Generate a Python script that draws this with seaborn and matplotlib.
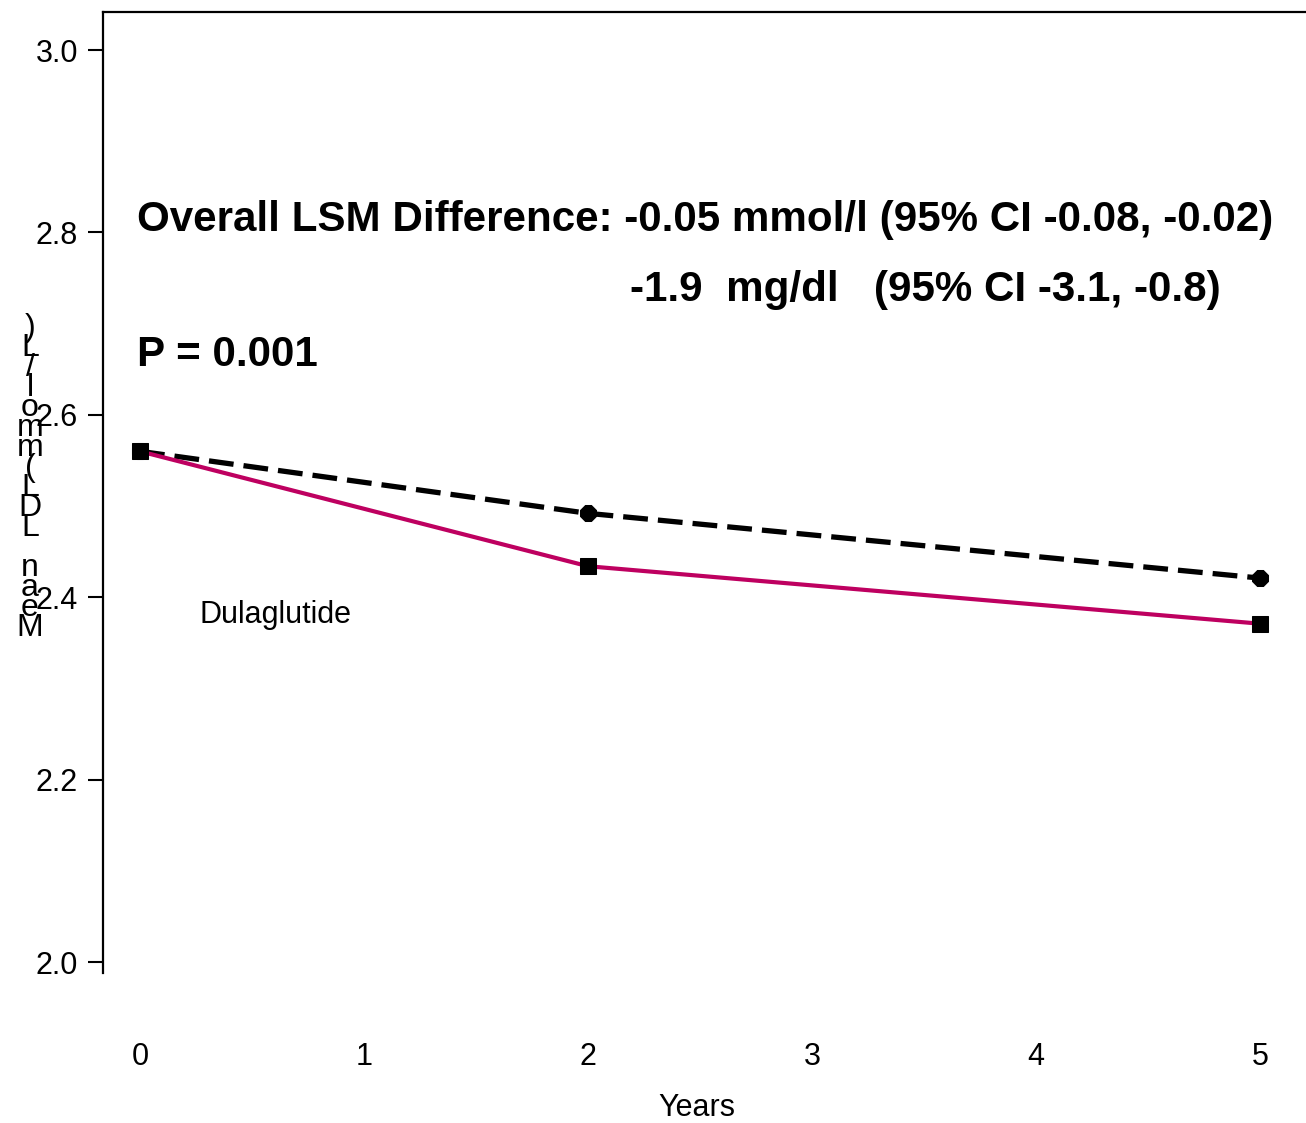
import matplotlib
matplotlib.use("Agg")
import matplotlib.pyplot as plt
import seaborn as sns
import pandas as pd

# Mean LDL (mmol/L) by study year
years = [0, 2, 5]
dulaglutide_ldl = [2.56, 2.434, 2.371]
placebo_ldl = [2.56, 2.492, 2.421]
x_ticks = [0, 1, 2, 3, 4, 5]
y_ticks = [2.0, 2.2, 2.4, 2.6, 2.8, 3.0]

sns.set_theme(style="white")
plt.rcParams["font.family"] = ["Liberation Sans", "DejaVu Sans"]

fig = plt.figure(figsize=(13.06, 11.23), dpi=100)
ax = fig.add_axes([103 / 1306, 1 - 973 / 1123, 1 - 103 / 1306, (973 - 12) / 1123])

df_pbo = pd.DataFrame({"Years": years, "LDL": placebo_ldl})
df_dula = pd.DataFrame({"Years": years, "LDL": dulaglutide_ldl})

sns.lineplot(data=df_pbo, x="Years", y="LDL", ax=ax, color="black", lw=3.8,
             linestyle=(0, (4.7, 1.9)), marker="8", ms=13,
             markerfacecolor="black", markeredgecolor="black", zorder=3)
sns.lineplot(data=df_dula, x="Years", y="LDL", ax=ax, color="#BE0060", lw=3.0,
             marker="s", ms=11, markerfacecolor="black", markeredgecolor="black",
             zorder=4)

ax.set_xlim(-0.165, 5.205)
ax.set_ylim(1.988, 3.0417)
ax.set_xticks(x_ticks)
ax.set_xticklabels([str(t) for t in x_ticks])
ax.set_yticks(y_ticks)
ax.set_yticklabels([f"{t:.1f}" for t in y_ticks])

for side in ["right", "bottom"]:
    ax.spines[side].set_visible(False)
for side in ["left", "top"]:
    ax.spines[side].set_visible(True)
    ax.spines[side].set_color("black")
    ax.spines[side].set_linewidth(1.6)

ax.tick_params(axis="y", left=True, length=11, width=1.5, pad=7,
               labelsize=22, colors="black")
ax.tick_params(axis="x", bottom=False, length=0, pad=50, labelsize=22,
               colors="black")
ax.set_xlabel("Years", fontsize=22, color="black")
ax.xaxis.set_label_coords(0.494, -0.125)
ax.set_ylabel("")

# stacked vertical axis title, one upright character per row
title_chars = "Mean LDL(mmol/L)"
y_px = 628
for ch in title_chars:
    if ch.strip():
        fig.text(30 / 1306, 1 - y_px / 1123, ch, fontsize=23, ha="center",
                 va="center", color="black")
    y_px -= 20

bold = dict(fontsize=30.3, fontweight="bold", color="black", va="center", ha="left")
fig.text(137 / 1306, 1 - 220 / 1123,
         "Overall LSM Difference: -0.05 mmol/l (95% CI -0.08, -0.02)", **bold)
fig.text(630 / 1306, 1 - 290 / 1123, "-1.9  mg/dl   (95% CI -3.1, -0.8)", **bold)
fig.text(137 / 1306, 1 - 355 / 1123, "P = 0.001", **bold)
fig.text(200 / 1306, 1 - 615 / 1123, "Dulaglutide", fontsize=22, color="black",
         va="center", ha="left")

fig.savefig("out.png", dpi=100)
